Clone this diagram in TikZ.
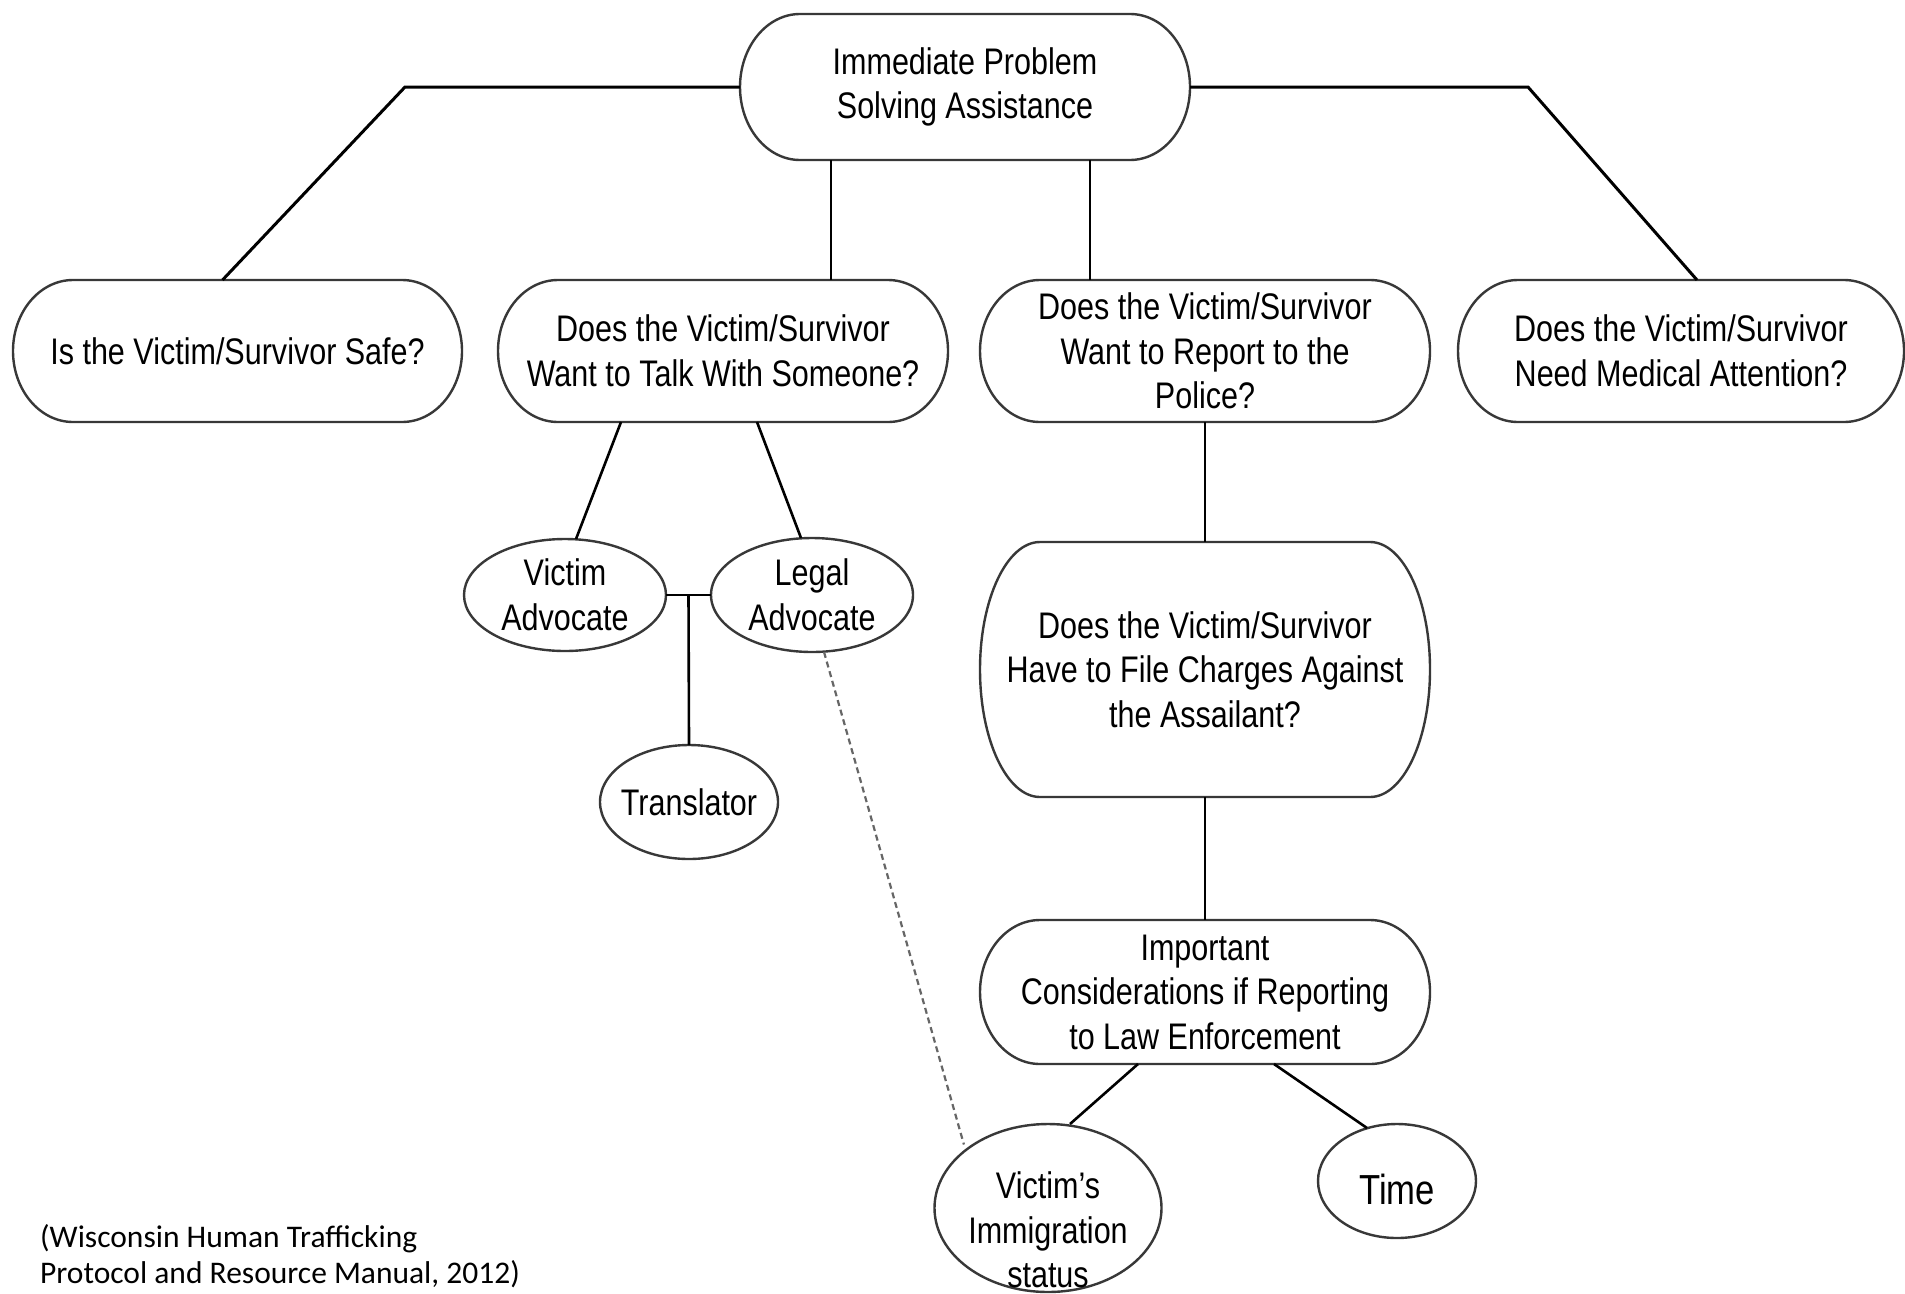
\documentclass[tikz,border=0pt]{standalone}
\usepackage{fontspec}
\usetikzlibrary{shapes.geometric,calc}
\newfontfamily\nfont[FakeStretch=0.825]{Liberation Sans}
\newfontfamily\cfont{Carlito}
\begin{document}
\begin{tikzpicture}[x=1pt,y=-1pt,
  boxline/.style={draw=black!78, line width=2.4pt},
  conn/.style={draw=black, line width=2.6pt},
  dashline/.style={draw=black!60, line width=2.2pt, dash pattern=on 6pt off 4pt},
  txt/.style={font=\nfont\fontsize{37}{44.5}\selectfont, align=center, text=black},
  capbox/.style={txt, rectangle, inner sep=0pt, outer sep=0pt},
  ellbox/.style={txt, ellipse, boxline, inner sep=-14pt, outer sep=0pt},
]
\useasboundingbox[fill=white] (0,0) rectangle (1905,1293);

% capsule nodes
\node[capbox, minimum width=450pt, minimum height=146pt] (top) at (965,87) {Immediate Problem\\Solving Assistance};
\node[capbox, minimum width=449pt, minimum height=142pt] (safe) at (237.5,351) {Is the Victim/Survivor Safe?};
\node[capbox, minimum width=450pt, minimum height=142pt] (talk) at (723,351) {Does the Victim/Survivor\\Want to Talk With Someone?};
\node[capbox, minimum width=450pt, minimum height=142pt] (report) at (1205,351) {Does the Victim/Survivor\\Want to Report to the\\Police?};
\node[capbox, minimum width=446pt, minimum height=142pt] (medical) at (1681,351) {Does the Victim/Survivor\\Need Medical Attention?};
\node[capbox, minimum width=450pt, minimum height=255pt] (file) at (1205,669.5) {Does the Victim/Survivor\\Have to File Charges Against\\the Assailant?};
\node[capbox, minimum width=450pt, minimum height=144pt] (imp) at (1205,992) {Important\\Considerations if Reporting\\to Law Enforcement};

\foreach \nm in {top,safe,talk,report,medical,file,imp}{
  \draw[boxline] let \p1=(\nm.north west), \p2=(\nm.south east), \n1={(\y1-\y2)/2} in
    (\x1+60pt,\y1) -- (\x2-60pt,\y1)
    arc[start angle=90,end angle=-90,x radius=60pt,y radius=\n1]
    -- (\x1+60pt,\y2)
    arc[start angle=270,end angle=90,x radius=60pt,y radius=\n1] -- cycle;
}

% ellipse nodes
\node[ellbox, minimum width=202pt, minimum height=112pt] (va) at (565,595) {Victim\\Advocate};
\node[ellbox, minimum width=202pt, minimum height=114pt] (la) at (812,595) {Legal\\Advocate};
\node[ellbox, minimum width=178pt, minimum height=114pt] (tr) at (689,802) {Translator};
\node[ellbox, minimum width=227pt, minimum height=168pt] (imm) at (1048,1208) {};
\node[txt, inner sep=0pt] (immtxt) at (1048,1230) {Victim’s\\Immigration\\status};
\node[ellbox, minimum width=158pt, minimum height=114pt] (time) at (1397,1181) {};
\node[txt, inner sep=0pt, font=\nfont\fontsize{42}{48}\selectfont] (timetxt) at (1397,1189) {Time};

% connectors
\coordinate (lk) at (405,87);
\coordinate (rk) at (1528,87);
\draw[conn, line width=3pt] (top.west) -- (lk) -- ($(safe.north)+(-15,0)$);
\draw[conn, line width=3pt] (top.east) -- (rk) -- ($(medical.north)+(16,0)$);
\coordinate (t1) at ($(talk.north)+(108,0)$);
\coordinate (t2) at ($(report.north)+(-115,0)$);
\draw[conn] (t1) -- (t1 |- top.south);
\draw[conn] (t2) -- (t2 |- top.south);
\draw[conn] ($(talk.south)+(-102,0)$) -- ($(va.north)+(11,0)$);
\draw[conn] ($(talk.south)+(34,0)$) -- ($(la.north)+(-11,0)$);
\draw[conn] (va.east) -- (la.west);
\coordinate (mid) at ($(va.east)!0.5!(la.west)$);
\draw[conn] (mid) -- (tr.north);
\draw[dashline, shorten >=6pt] ($(la.south)+(12,0)$) -- (imm.145);
\draw[conn] (report.south) -- (file.north);
\draw[conn] (file.south) -- (imp.north);
\draw[conn] ($(imp.south)+(-67,0)$) -- ($(imm.north)+(22,0)$);
\draw[conn] ($(imp.south)+(69,0)$) -- ($(time.north)+(-30,4)$);

% citation
\node[font=\cfont\fontsize{31.5}{36}\selectfont, align=left, anchor=west, inner sep=0pt] (cite) at (40,1256) {(Wisconsin Human Trafficking\\Protocol and Resource Manual, 2012)};
\end{tikzpicture}
\end{document}
